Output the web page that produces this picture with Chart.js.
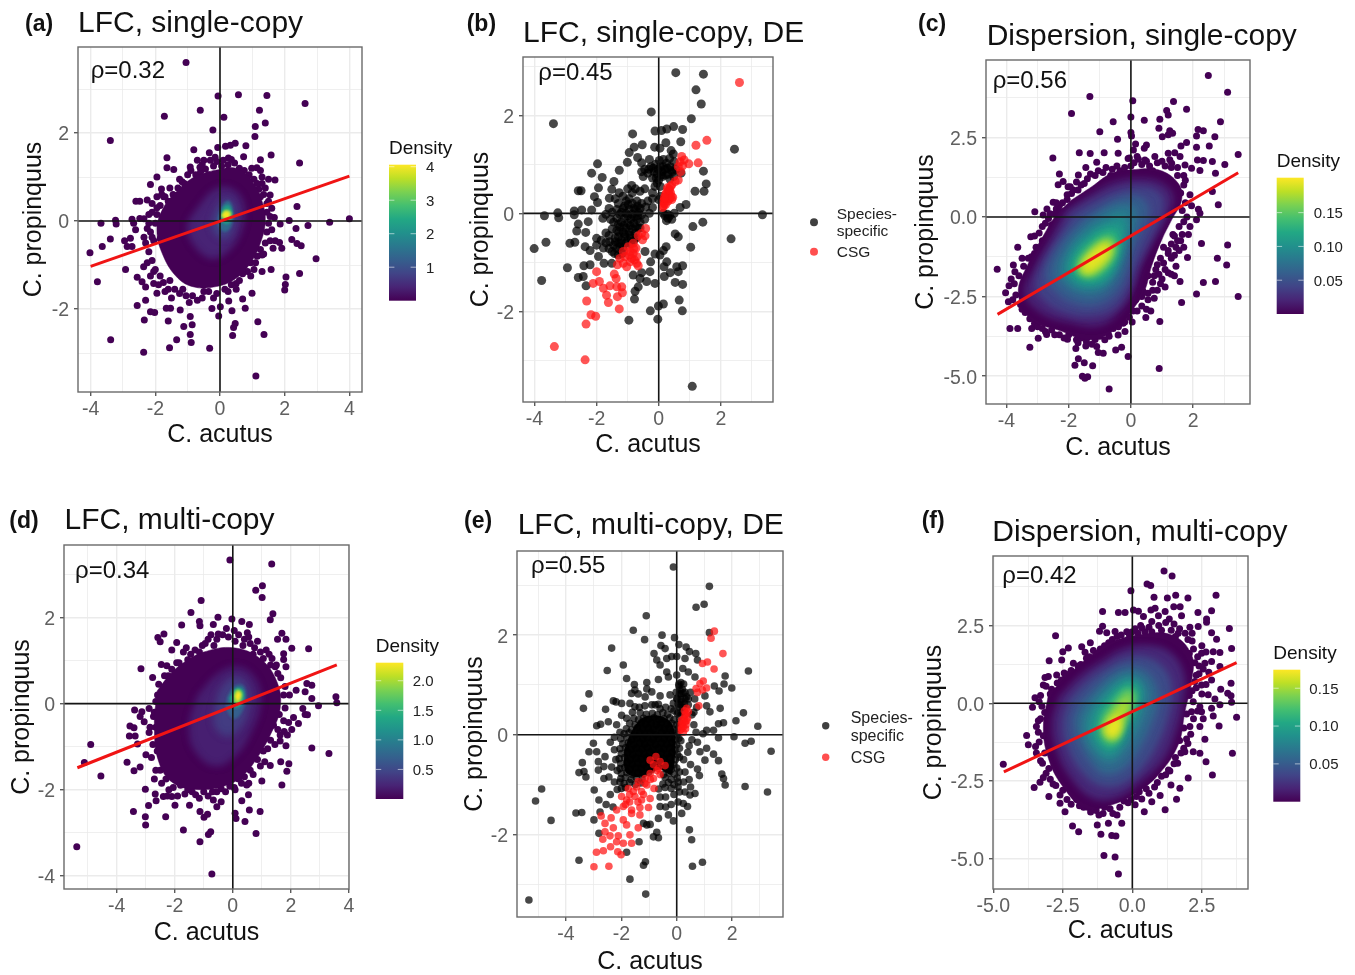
<!DOCTYPE html>
<html>
<head>
<meta charset="utf-8">
<title>Scatter panels</title>
<script src="https://cdn.jsdelivr.net/npm/chart.js@4"></script>
<style>
html, body { margin: 0; padding: 0; background: #fff; }
#page { position: relative; width: 1355px; height: 975px; overflow: hidden; filter: blur(0.4px); }
#page canvas { position: absolute; }
#overlay { position: absolute; left: 0; top: 0; font-family: "Liberation Sans", Arial, sans-serif; }
</style>
</head>
<body>
<div id="page"></div>
<script>
const viridisStops = ["#440154", "#482475", "#414487", "#355f8d", "#2a788e", "#21918c", "#22a884", "#44bf70", "#7ad151", "#bddf26", "#fde725"];

// ---- panel a ----
const aDots = [[-1.05,3.6],[-.06,2.84],[.57,2.87],[1.45,2.85],[2.63,2.67],[-.61,2.52],[1.22,2.52],[-1.72,2.38],[.12,2.36],[1.4,2.23],[1.09,2.15],[-.22,2.07],[1.08,1.92],[-3.39,1.83],[.8,1.71],[.47,1.77],[.32,1.72],[.17,1.7],[-.07,1.67],[-.81,1.62],[-.33,1.55],[.73,1.46],[1.58,1.5],[-1.64,1.44],[.26,1.43],[2.46,1.32],[1.25,1.39],[-.7,1.38],[-.5,1.38],[-.3,1.38],[-.1,1.35],[-.92,1.23],[-1.64,1.21],[-1.43,1.17],[1.14,1.21],[-1.95,1],[1.3,1],[1.7,.93],[1.5,.95],[-2.15,.83],[-1.17,.89],[-1.81,.73],[1.55,.59],[-2.6,.45],[-2.48,.45],[-2.25,.48],[-1.95,.55],[-1.74,.55],[1.45,.4],[2.38,.33],[1.6,.29],[1.68,.08],[2.14,.01],[4,.05],[3.39,-.03],[2.72,-.1],[2.35,-.17],[1.86,-.07],[-3.23,.02],[-3.21,-.07],[-3.68,-.05],[-2.72,.04],[-2.67,-.05],[-2.48,.06],[-3.39,-.41],[-3.64,-.58],[-4.02,-.72],[-2.95,-.45],[-2.77,-.39],[-2.61,-.2],[-2.25,-.17],[-2.35,-.37],[-2.87,-.58],[-2.72,-.58],[-2.1,-.37],[2.22,-.42],[2.38,-.51],[2.51,-.56],[1.71,-.45],[1.84,-.49],[1.91,-.62],[1.64,-.62],[2.97,-.86],[1.3,-.77],[1.58,-1.1],[1.3,-1.15],[2.46,-1.19],[2.04,-1.27],[2.02,-1.44],[2,-1.57],[-2.92,-1.1],[-3.79,-1.38],[-2.56,-1.28],[-2.41,-1.38],[-2.3,-1.5],[-2.36,-1.04],[-2.05,-1.15],[-2.05,-1.42],[-1.95,-1.64],[-2.3,-1.8],[-2.56,-1.92],[.99,-1.64],[.7,-1.77],[.78,-1.98],[.37,-2.04],[.27,-1.82],[.01,-1.95],[-.25,-1.99],[-.04,-2.16],[-.92,-2.17],[-1.23,-2.02],[-1.53,-1.98],[-1.66,-1.98],[-2.15,-2.06],[-2.02,-2.08],[-2.34,-2.25],[-1.6,-2.27],[-1.12,-2.4],[-.86,-2.36],[-.92,-2.58],[-.89,-2.76],[-1.34,-2.7],[-1.56,-2.88],[-.32,-2.89],[-2.36,-2.98],[-3.38,-2.7],[.47,-2.33],[.42,-2.42],[.39,-2.6],[1.17,-2.29],[1.36,-2.58],[1.11,-3.52],
  [-.9,1.15],[-.75,1.05],[-.6,1.12],[-.45,1.18],[-.35,1.05],[.05,1.25],[.25,1.28],[.45,1.32],[.6,1.2],[.75,1.15],[.9,1.05],[1.05,.95],[1.2,.72],[1.3,.85],[1.35,.6],[1.5,.45],[1.45,.2],[1.5,-.05],[1.45,-.25],[1.4,-.5],[1.25,-.65],[1.15,-.8],[.95,-.95],[.85,-1.15],[.7,-1.2],[.5,-1.42],[.35,-1.45],[.15,-1.55],[-.1,-1.65],[-.35,-1.6],[-.55,-1.75],[-.7,-1.8],[-.85,-1.7],[-1.05,-1.7],[-1.25,-1.65],[-1.4,-1.55],[-1.6,-1.55],[-1.75,-1.4],[-1.85,-1.25],[-2,-1.1],[-2.1,-.9],[-2.2,-.7],[-2.05,-.45],[-2.15,-.25],[-2,-.05],[-1.95,.15],[-1.85,.35],[-1.6,.45],[-1.45,.6],[-1.3,.75],[-1.1,.85]];
const aFringe = [[-1.55,.75],[-1.7,.55],[-1.25,.95],[-1,1.05],[-.55,1.28],[-.2,1.25],[.1,1.38],[.35,1.4],[.55,1.05],[.85,.95],[1.15,.85],[1.4,.75],[1.25,.55],[1.55,.1],[1.6,-.2],[1.35,-.75],[1.05,-1.1],[.6,-1.35],[.5,-1.55],[.25,-1.6],[-.2,-1.75],[-.5,-1.6],[-.95,-1.85],[-1.15,-1.55],[-1.5,-1.75],[-1.7,-1.6],[-1.9,-1.45],[-1.55,-1.35],[-2.15,-1.25],[-2.25,-.95],[-2.3,-.5],[-2.2,-.05],[-2.1,.2],[-2.1,.4],[-1.95,.3],[-2.2,.15],[-1.8,.6],[-2.35,.05],[-1.85,-.4],[.95,-1.25],[1.1,-.95],[1.55,-.45],[1.25,1.15],[.98,1.2],[-.15,1.45],[-.62,1.22]];
const aLevels = [0, .4, .8, 1.4, 2.2, 3.2, 4];
const aContours = [
  [[-.2,1.15],[.5,1.2],[1,.9],[1.3,.45],[1.4,0],[1.25,-.5],[.9,-1],[.4,-1.35],[-.2,-1.5],[-.8,-1.5],[-1.3,-1.3],[-1.75,-.8],[-1.95,-.2],[-1.75,.3],[-1.3,.7],[-.8,1]],
  [[-.7,.3],[-.2,.7],[.3,.75],[.7,.45],[.7,-.1],[.3,-.65],[-.25,-.85],[-.8,-.55],[-1,-.1]],
  [[-.2,.1],[0,.4],[.25,.5],[.45,.3],[.42,-.05],[.25,-.35],[-.05,-.35],[-.25,-.1]],
  [[-.05,.1],[.1,.38],[.28,.45],[.4,.2],[.34,-.12],[.15,-.24],[-.05,-.1]],
  [[.03,.1],[.12,.32],[.3,.34],[.36,.12],[.27,-.05],[.1,-.04]],
  [[.04,.1],[.13,.24],[.33,.22],[.31,.06],[.14,.03]],
  [[.05,.12],[.17,.22],[.31,.17],[.22,.05]]
];
const aFit = [[-4,-1.03],[4,1.02]];

// ---- panel b ----
const bBlack = [[.55,2.87],[1.44,2.84],[1.2,2.52],[1.37,2.23],[-.24,2.07],[1.05,1.93],[-3.39,1.83],[.48,1.77],[.77,1.71],[-.12,1.68],[.09,1.69],[.26,1.72],[-.84,1.62],[.23,1.44],[.71,1.46],[-.53,1.4],[-.79,1.35],[-.13,1.35],[.04,1.33],[2.44,1.31],[-.95,1.24],[.4,1.28],[.47,1.21],[-.68,1.14],[-1.01,1.04],[-1.97,1.01],[-.55,1.03],[-1.27,.88],[-2.16,.82],[-1.82,.73],[1.44,.86],[1.53,.6],[-1.44,.65],[-1.94,.52],[-2.59,.46],[-2.5,.46],[-1.51,.49],[-1.27,.42],[-.87,.57],[-2.07,.34],[-1.97,.22],[-1.59,.31],[1.17,.45],[1.46,.45],[.88,.18],[.69,.12],[3.34,-.03],[-3.25,.01],[-3.22,-.09],[-3.68,-.05],[-2.72,.05],[-2.72,-.03],[-2.48,.07],[-2.16,.07],[-2.59,-.22],[-2.27,-.17],[-2.64,-.36],[-2.35,-.39],[1.42,-.18],[1.1,-.27],[2.33,-.52],[.53,-.42],[.63,-.48],[1.03,-.69],[-3.63,-.59],[-4.01,-.72],[-2.86,-.61],[-2.7,-.59],[-2,-.51],[-2,-.65],[-2.37,-.68],[-2.21,-.76],[-1.94,-.88],[-1.78,-.71],[-2.94,-1.11],[-2.41,-1.07],[-2.21,-1.05],[-3.77,-1.37],[-2.59,-1.31],[-2.43,-1.29],[-2.34,-1.48],[-1.76,-1.02],[-1.51,-1.02],
  [.24,-.68],[.15,-.76],[-.44,-.78],[-.12,-.83],[.04,-.85],[-.26,-.99],[.26,-.99],[.58,-1.09],[.77,-1.07],[.63,-1.19],[.17,-1.09],[.18,-1.29],[.37,-1.21],[-.28,-1.19],[-.55,-1.21],[-.82,-1.26],[-.6,-1.33],[-.39,-1.39],[-.12,-1.43],[.53,-1.41],[.77,-1.45],[-.66,-1.5],[-.76,-1.59],[-.78,-1.75],[.66,-1.77],[.15,-1.85],[-.01,-1.89],[.76,-1.99],[-.27,-1.99],[-.96,-2.18],[-.03,-2.16],[1.08,-3.53],
  [-.45,.9],[-.35,.82],[-.25,.95],[-.15,.85],[-.05,.8],[.05,.95],[.1,.85],[.2,.9],[.3,.8],[.38,.95],[.45,.85],[-.1,1],[.02,1.08],[.12,.75],[.25,1.02],[.36,.7],[-.5,.75],[-.55,.85],[-.2,.72],[0,.68],[.15,1.1],[.35,1.12],[.5,1.05],[.55,.9],[-.3,1.1],[-.05,.62],[-.12,.55],[.05,.55],[.72,.82],[-.02,.9],[.15,.95],[.28,.92],[.42,.88],[-.18,.92],[-.32,.9],[.08,.78],[.22,.78],[.48,.75],[-.08,.72],
  [-1,.5],[-.85,.42],[-.75,.5],[-.6,.45],[-.45,.5],[-.35,.25],[-.2,.3],[-1.4,.3],[-1.3,.2],[-1.15,.35],[-1.05,.25],[-.95,.3],[-.85,.2],[-.7,.25],[-.55,.2],[-.42,.13],[-1.6,.1],[-1.5,.02],[-1.35,.08],[-1.25,-.02],[-1.15,.1],[-1.05,0],[-.95,.08],[-.85,-.02],[-.75,.08],[-.65,.02],[-.55,-.03],[-1.8,-.1],[-1.7,-.02],[-1.55,-.12],[-1.45,-.18],[-1.35,-.1],[-1.2,-.18],[-1.1,-.1],[-1,-.2],[-.9,-.12],[-.8,-.2],[-.7,-.12],[-.6,-.18],[-.45,-.12],[-1.5,-.32],[-1.35,-.35],[-1.25,-.28],[-1.15,-.38],[-1.05,-.3],[-.95,-.38],[-.85,-.32],[-.75,-.4],[-.65,-.3],[-1.7,-.4],[-1.6,-.45],[-1.4,-.5],[-1.3,-.48],[-1.2,-.55],[-1.1,-.48],[-1,-.55],[-.9,-.5],[-.8,-.55],[-1.45,-.65],[-1.5,-.78],[-1.35,-.72],[-1.7,-.6],[-1.85,-.55],[-1.25,-.68],[-1.15,-.7],[-.2,.12],[-.3,0],[.2,-.05],[.3,-.1],[.25,-.15],[.35,-.05],[.42,-.12],[.28,-.02],[.5,0],[.15,0],[-.2,.42],[.05,.35],[0,.28],
  [-1.1,.15],[-.98,.18],[-.8,.1],[-.68,.15],[-.6,.1],[-1.2,.02],[-1,-.05],[-.8,-.08],[-.68,-.05],[-1.3,-.22],[-1.12,-.25],[-.92,-.25],[-.75,-.28],[-.6,-.3],[-1.28,-.38],[-1.1,-.42],[-.92,-.45],[-.72,-.5],[-1.22,-.62],[-1.05,-.6],[-.9,-.62],[-1.4,-.58],[-1.3,-.6],[-1.58,-.58],[-1.42,-.82],[-1.3,-.85],[-1.18,-.82],[-1.6,-.72]];
const bRed = [[2.6,2.67],[1.55,1.49],[1.2,1.39],[1.27,1.03],[.97,1.01],[.74,1.16],[.69,1.05],[.82,1.09],[.77,.97],[.63,.95],[.71,.85],[.63,.68],[.53,.65],[.42,.58],
  [.12,.12],[.15,.15],[.18,.2],[.15,.25],[.2,.28],[.22,.18],[.25,.3],[.28,.35],[.22,.38],[.3,.25],[.33,.4],[.35,.3],[.38,.42],[.3,.45],[.4,.35],[.32,.5],[.42,.28],[.25,.42],[.18,.32],[.35,.48],[.28,.52],[.45,.33],[.38,.55],
  [-.42,-.31],[-.55,-.41],[-.44,-.46],[-.66,-.46],[-.52,-.54],[-.82,-.61],[-.98,-.68],[-.73,-.71],[-1.14,-.78],[-.92,-.78],[-.71,-.88],[-1.08,-.88],[-.87,-.92],[-1.25,-.92],[-.71,-1.02],[-.92,-.99],[-1.14,-1.02],[-1.33,-1.05],[-1.03,-1.09],[-.66,-1.07],[-.82,-.82],[-.8,-.72],[-.95,-.85],[-.78,-.95],
  [-2,-1.19],[-1.43,-1.24],[-1.37,-1.33],[-2.11,-1.43],[-1.91,-1.39],[-1.78,-1.53],[-1.57,-1.48],[-1.68,-1.67],[-1.62,-1.82],[-1.19,-1.5],[-1.35,-1.5],[-1.17,-1.62],[-1.33,-1.7],[-2.32,-1.79],[-1.27,-1.95],[-2.18,-2.07],[-2.03,-2.1],[-2.34,-2.26],[-3.36,-2.72],[-2.37,-2.99]];

// ---- panel c ----
const cDots = [[2.49,4.44],[3.11,3.92],[-1.32,3.78],[.06,3.65],[1.37,3.63],[1.79,3.38],[1.15,3.34],[1.2,3.2],[-1.91,3.25],[0,3.14],[-.57,2.99],[.43,3.04],[.93,3.07],[2.88,2.99],[-1,2.68],[.9,2.79],[0,2.65],[.02,2.54],[1.25,2.71],[1.2,2.58],[1.01,2.52],[1.34,2.63],[-.43,2.44],[2.16,2.75],[2.33,2.71],[2.11,2.54],[2.7,2.52],[.15,2.29],[.08,2.1],[-.41,2],[-1.66,2.02],[-1.31,1.99],[-.86,2.02],[-2.51,1.85],[.5,2.26],[.43,2.16],[1.61,2.23],[1.79,2.34],[2.11,2.19],[2.52,2.23],[3.45,1.96],[3.02,1.65],[2.62,1.74],[-1.1,1.72],[-1.45,1.55],[-2.3,1.35],[-1.69,1.32],[2.14,1.79],[2.33,1.77],[2.22,1.46],[2.72,1.37],[1.95,1.53],[1.74,1.63],[-.09,1.84],[.24,1.81],[.45,1.79],[.77,1.9],[1.2,2],[1.41,2.02],[1.58,1.9],[1.31,1.69],
  [-2.34,1.01],[-2.18,1.11],[-2.02,.95],[-1.91,.74],[-2.5,.46],[-3.09,.16],[-2.82,.06],[-2.34,.22],[-2.18,.17],[2.62,.8],[2.81,.38],[2.17,.24],[2.22,.12],[2.11,-.09],[2.27,-.83],[3.11,-.88],[2.78,-1.3],[3.08,-1.51],[1.82,-1.27],[1.58,-2.03],[2.33,-2.06],[2.72,-2.03],[2.11,-2.42],[3.45,-2.5],[1.63,-2.69],[-3.22,-.62],[-3.64,-.95],[-3.3,-1.3],[-3.78,-1.51],[-4.3,-1.64],[-3.73,-1.72],[-3.92,-2.16],[-4.03,-2.38],[-3.94,-2.66],[-3.89,-3.5],[-3.64,-3.5],[-3.25,-4.09],[-2.98,-3.81],[-3.19,-3.5],[-2.71,-3.69],[-1.77,-4.13],[-1.69,-4.45],[-1.8,-4.66],[-1.5,-4.58],[-1.23,-4.67],[-1.56,-5],[-1.39,-5.02],[-1.48,-5.07],[-.7,-5.4],[.91,-4.76],[-.09,-4.38],[-.49,-4.18],[-.3,-4.09],[-1.05,-4.26],[-.89,-4.28],[-1.1,-4.07],[.93,-3.28],[.04,-3.3],[.48,-3.16],[.64,-2.95],[.07,-2.95],[-.19,-3.03],[-.25,-3.34],[-.19,-3.6],[-.57,-3.5],[-.41,-3.71],[-.73,-3.65],[-.84,-3.86],[-1.43,-3.92],[-1.75,-3.86],[-2.04,-3.84],
  [-2.6,.1],[-2.75,-.2],[-2.95,-.5],[-2.85,-.75],[-3.05,-.95],[-3.2,-1.25],[-3.45,-1.55],[-3.6,-1.85],[-3.75,-2.1],[-3.7,-2.45],[-3.55,-2.75],[-3.4,-3],[-3.1,-3.35],[-2.85,-3.5],[-2.55,-3.55],[-2.3,-3.7],[-2,-3.7],[-1.7,-3.95],[-1.45,-4.05],[-1.15,-3.85],[-.85,-3.6],[-.5,-3.25],[-.3,-3.05],[-.1,-2.85],[.15,-2.6],[.35,-2.5],[.55,-2.4],[.7,-2.05],[.55,-1.85],[.9,-1.8],[.85,-1.5],[1.05,-1.45],[1.2,-1.15],[1.3,-.85],[1.35,-.55],[1.55,-.3],[1.7,-.15],[1.85,-.55],[1.6,-.75],[1.45,-.95],[1.3,-1.3],[1.2,-1.75],[1.1,-2.2],[.85,-2.3],[1,-1.95],[1.4,-1.85],[1.95,.35],[1.75,.45],[1.6,.75],[1.7,1],[1.5,1.3],[1.3,1.55],[1.1,1.6],[.85,1.7],[.6,1.6],[.35,1.65],[.1,1.7],[-.05,1.85],[-.35,1.45],[-.6,1.5],[-.9,1.4],[-1.15,1.3],[-1.4,1.2],[-1.6,1],[-1.85,.85],[-2.05,.7],[-2.2,.45],[-2.4,.25]];
const cFringe = [[-1.75,1.1],[-1.5,1.05],[-1.3,1.35],[-1.05,1.45],[-.8,1.55],[-.65,1.3],[-.45,1.6],[-.2,1.55],[0,1.6],[.2,1.9],[.5,1.75],[.7,1.45],[1,1.75],[1.25,1.8],[1.5,1.55],[1.7,1.3],[1.75,1.15],[1.9,.7],[1.65,.2],[1.8,0],[1.9,-.3],[1.65,-.55],[1.4,-.6],[1.5,-.75],[1.2,-1.05],[1.4,-1.2],[.95,-1.3],[1.1,-1.65],[.8,-1.65],[.95,-2.1],[.7,-2.3],[.55,-2.6],[.35,-2.8],[.2,-2.95],[-.05,-3.15],[-.2,-3.3],[-.4,-3.45],[-.7,-3.75],[-1,-3.75],[-1.25,-4],[-1.6,-3.8],[-1.9,-3.55],[-2.15,-3.8],[-2.45,-3.7],[-2.75,-3.6],[-3,-3.45],[-3.25,-3.2],[-3.5,-2.9],[-3.8,-2.6],[-3.85,-1.95],[-3.5,-1.3],[-3.1,-1.15],[-2.9,-1],[-3.1,-.6],[-2.85,-.3],[-2.65,-.05],[-2.45,.1],[-2.3,.35],[-2.05,.55],[-1.95,.95],[-1.7,.85],[.75,-2.55],[.5,-2.9],[.4,-2.35],[1.05,-.95],[1.55,-1.05],[1.7,-.95],[1.45,-1.55],[1.3,-1.8],[.75,-1.85],[-2.7,.25],[-2.55,-.25],[-2.4,.45]];
const cLevels = [0, .02, .04, .06, .08, .10, .12, .14, .16, .18, .195];
const cContours = [
  [[-1.91,.53],[-1.26,.95],[-.62,1.37],[.02,1.48],[.88,1.48],[1.52,1.06],[1.63,.53],[1.31,-.09],[.99,-.72],[.66,-1.56],[.45,-2.3],[.13,-2.81],[-.41,-3.44],[-1.26,-3.86],[-2.34,-3.55],[-3.19,-3.24],[-3.62,-2.4],[-3.3,-1.46],[-2.77,-.51],[-2.44,.01]],
  [[-2.1,.2],[-1.3,.7],[-.5,1.1],[.3,1.2],[1,1.05],[1.35,.6],[1.1,-.1],[.7,-.8],[.3,-1.6],[.1,-2.2],[-.3,-2.9],[-1,-3.4],[-2,-3.3],[-2.9,-3],[-3.4,-2.4],[-3.1,-1.6],[-2.6,-.7]],
  [[-1.9,.1],[-1.2,.5],[-.4,.85],[.3,.95],[.85,.8],[1.05,.4],[.85,-.2],[.5,-.9],[.15,-1.6],[-.1,-2.3],[-.6,-2.9],[-1.3,-3.1],[-2.1,-3],[-2.8,-2.6],[-3.05,-2.1],[-2.8,-1.4],[-2.3,-.6]],
  [[-1.65,-.1],[-1,.3],[-.35,.6],[.15,.65],[.5,.45],[.55,.05],[.3,-.5],[.05,-1.1],[-.15,-1.8],[-.5,-2.4],[-1.1,-2.75],[-1.8,-2.7],[-2.4,-2.35],[-2.7,-1.85],[-2.5,-1.2],[-2.1,-.6]],
  [[-1.4,-.2],[-.85,.15],[-.35,.35],[.05,.3],[.15,-.1],[-.05,-.7],[-.25,-1.4],[-.55,-2],[-1.05,-2.4],[-1.65,-2.4],[-2.15,-2.1],[-2.35,-1.65],[-2.15,-1.1],[-1.8,-.6]],
  [[-1.2,-.35],[-.7,-.1],[-.3,.02],[-.12,-.25],[-.25,-.85],[-.45,-1.5],[-.75,-2],[-1.2,-2.2],[-1.7,-2.15],[-2.05,-1.85],[-2.05,-1.4],[-1.75,-.85]],
  [[-1.1,-.5],[-.65,-.35],[-.38,-.4],[-.35,-.9],[-.5,-1.45],[-.85,-1.9],[-1.3,-2.05],[-1.7,-1.95],[-1.9,-1.6],[-1.7,-1.1]],
  [[-1,-.65],[-.65,-.55],[-.48,-.8],[-.58,-1.3],[-.9,-1.7],[-1.3,-1.9],[-1.65,-1.8],[-1.72,-1.5],[-1.5,-1.05]],
  [[-.95,-.75],[-.65,-.7],[-.55,-1.05],[-.8,-1.5],[-1.2,-1.8],[-1.6,-1.75],[-1.65,-1.45],[-1.3,-1.05]],
  [[-.88,-.78],[-.65,-.82],[-.65,-1.2],[-1.02,-1.6],[-1.42,-1.8],[-1.62,-1.62],[-1.3,-1.12]],
  [[-.9,-.92],[-.74,-.92],[-.82,-1.25],[-1.2,-1.6],[-1.5,-1.67],[-1.45,-1.4],[-1.15,-1.08]]
];
const cFit = [[-4.29,-3.06],[3.45,1.39]];

// ---- panel d ----
const dDots = [[-.1,3.34],[1.34,3.25],[1.02,2.74],[.79,2.64],[1.01,2.47],[-1.09,2.4],[1.38,2.09],[1.29,1.95],[-1.44,2.12],[-.51,2.01],[-1.15,1.91],[-1.13,1.81],[-1.76,1.83],[-.67,1.84],[-.03,1.97],[.31,1.91],[.57,1.84],[-2.37,1.62],[-2.58,1.54],[-2.5,1.44],[-1.93,1.42],[-2.1,1.25],[1.69,1.64],[1.83,1.5],[1.54,1.5],[2.61,1.28],[2.03,1.29],[1.75,1.16],[1.75,1.03],[1.83,.86],[1.46,.86],[-3.16,.81],[-2.46,.91],[-2.27,.88],[-1.93,.95],[-2.76,.61],[-2.22,.65],[-2.59,.2],[2.55,.47],[2.72,.43],[2.49,.28],[2.72,.12],[2.18,.31],[3.55,.16],[3.58,.02],[2.95,-.05],[2.41,-.11],[2.49,-.25],[2.57,-.26],[2.09,-.32],[2.26,-.46],[1.92,-.44],[2.03,-.6],[1.77,-.65],[1.88,-.73],[1.63,-.73],[1.63,-.87],[1.83,-.98],[2.72,-1.03],[3.31,-1.16],[1.65,-1.35],[1.93,-1.4],[1.86,-1.57],[1.69,-1.89],[1.29,-1.44],[1,-1.8],[-3.38,-.15],[-3.13,-.19],[-2.88,-.11],[-3.19,-.3],[-3.05,-.42],[-2.73,-.3],[-3.54,-.52],[-3.4,-.56],[-3.56,-.75],[-3.36,-.75],[-2.88,-.67],[-3.28,-.94],[-4.89,-.95],[-2.99,-1.19],[-5.11,-1.37],[-3.64,-1.36],[-3.4,-1.56],[-3.19,-1.47],[-4.54,-1.68],[-3.01,-1.99],[-2.67,-2.1],[-2.64,-2.26],[-2.9,-2.37],[-1.99,-2.36],[-1.49,-2.36],[-3.42,-2.51],[-3.01,-2.63],[-2.31,-2.63],[-3,-2.82],[-1.7,-2.94],[-1.13,-2.51],[-.99,-2.64],[-.87,-2.57],[-.76,-2.98],[-.84,-3.04],[-1.13,-3.21],[-5.37,-3.33],[-.72,-3.96],[.08,-2.55],[.11,-2.67],[.42,-2.74],[.57,-2.47],[.94,-2.51],[.8,-3.02],[.31,-2.26],[-.55,-2.4],[-.67,-2.24],[-.4,-2.28],[-2.39,-2.16],[-2.1,-2.16],[.54,-2.12],[.08,-2],[.48,-1.89],
  [-2.55,.45],[-2.35,.65],[-2.1,.8],[-1.85,.95],[-1.55,1.02],[-1.7,1.2],[-1.3,1.25],[-1.05,1.35],[-.85,1.5],[-.55,1.5],[-.35,1.6],[-.15,1.55],[.2,1.6],[.4,1.5],[.6,1.4],[.75,1.3],[.95,1.2],[1.15,1.25],[1.35,1.05],[1.5,.9],[1.65,.6],[1.8,.4],[1.95,.2],[1.8,-.1],[1.75,-.4],[1.55,-.6],[1.45,-.95],[1.2,-1.05],[1.1,-1.35],[.95,-1.45],[.7,-1.65],[.55,-1.85],[.3,-1.85],[.05,-1.95],[-.25,-2.05],[-.55,-2.05],[-.85,-2.15],[-1.15,-2.2],[-1.4,-2.05],[-1.65,-2.1],[-1.9,-2.15],[-2.2,-2],[-2.45,-1.85],[-2.65,-1.55],[-2.8,-1.25],[-2.75,-.95],[-2.85,-.55],[-2.7,-.2],[-2.65,.05]];
const dFringe = [[-2.2,.5],[-1.95,.7],[-1.75,.85],[-1.45,1.15],[-1.15,1.2],[-.95,1.4],[-.65,1.35],[-.5,1.62],[-.22,1.75],[.08,1.45],[.35,1.35],[.5,1.65],[.7,1.15],[.85,1.45],[1.05,1.05],[1.3,.9],[1.25,1.15],[1.55,.7],[1.75,.2],[1.6,-.25],[1.4,-.5],[1.3,-.85],[1.05,-1.1],[.85,-1.3],[.6,-1.55],[.4,-1.7],[.2,-1.75],[-.1,-1.92],[-.4,-1.98],[-.7,-2.05],[-1,-2.05],[-1.28,-2.12],[-1.55,-2],[-1.8,-1.9],[-2.05,-1.95],[-2.3,-1.75],[-2.5,-1.55],[-2.4,-1.3],[-2.6,-1.1],[-2.55,-.8],[-2.65,-.55],[-2.55,-.3],[-2.5,-.05],[-2.35,.3],[-1.6,1.3],[-.75,1.6],[.05,1.7],[.55,1.55],[-2.7,-1.75],[-2.25,-2.15]];
const dLevels = [0, .2, .4, .7, 1.1, 1.5, 1.9, 2.3];
const dContours = [
  [[-2.6,.3],[-2.2,.65],[-1.7,.95],[-1,1.2],[.02,1.3],[.94,1.05],[1.52,.51],[1.63,-.11],[1.29,-.73],[.83,-1.27],[.37,-1.66],[-.21,-1.9],[-1.13,-2],[-2.04,-1.85],[-2.55,-1.35],[-2.7,-.5]],
  [[-1.2,.2],[-.5,.7],[.2,.85],[.8,.55],[.95,0],[.6,-.7],[.1,-1.2],[-.6,-1.45],[-1.3,-1.1],[-1.5,-.5]],
  [[-.5,.25],[-.15,.55],[.25,.6],[.55,.3],[.5,-.2],[.2,-.6],[-.25,-.75],[-.65,-.45]],
  [[-.2,.15],[.05,.4],[.35,.42],[.45,.15],[.3,-.2],[.05,-.35],[-.2,-.15]],
  [[-.12,.15],[.1,.36],[.34,.34],[.38,.08],[.15,-.1],[-.07,-.04]],
  [[-.06,.13],[.14,.34],[.33,.27],[.3,.03],[.1,-.05]],
  [[.03,.06],[.1,.3],[.29,.28],[.26,.06],[.12,0]],
  [[.08,.18],[.18,.28],[.27,.2],[.17,.07]]
];
const dFit = [[-5.35,-1.49],[3.58,.9]];

// ---- panel e ----
const eBlack = [[-.12,3.37],[1.18,2.98],[.99,2.62],[.7,2.56],[-1.1,2.39],[-1.57,2.1],[-.53,2],[-1.16,1.91],[-.08,1.95],[1.18,2.05],[.08,1.81],[-2.35,1.74],[.34,1.76],[-.57,1.79],[-.42,1.73],[.69,1.63],[-.82,1.63],[.46,1.67],[-.36,1.53],[-.72,1.5],[-.18,1.57],[0,1.57],[.3,1.53],[.75,1.5],[-1.93,1.4],[-2.51,1.29],[2.59,1.28],[-.6,1.4],[-.36,1.26],[.22,1.33],[.42,1.26],[-1.81,1.13],[-.66,1.11],[-.3,1.16],[0,1.2],[.66,1.16],[1.75,1.18],[1.71,1.02],[1.99,.94],[1.36,.98],[1.53,.88],[-1.53,1.01],[-1.08,1.05],[-3.17,.82],[-1.51,.9],[-1.08,.92],[-.9,.86],[-1.63,.83],[-1.39,.82],[-1.14,.76],[-.6,.78],[-2.29,.68],[-2.19,.66],[-1.99,.63],[-1.69,.63],[-3.37,.53],[-2.57,.51],[-1.51,.56],[-.66,.61],[-.78,.6],[-.24,.8],[.12,.9],[.24,.83],[0,.73],[.18,.66],[.36,.76],[-.12,.63],[.42,.6],[1.02,.78],[1.08,.58],[1.57,.53],[1.2,.46],[2.41,.44],[2.14,.28],[2.93,.17],[1.69,.24],[1.51,.22],[1.33,.09],[1.08,.09],[-2.89,.18],[-2.75,.21],[-2.47,.26],[-2.17,.2],[-1.99,.39],[-1.81,.33],[2.07,-.04],[2.47,-.17],[2.69,-.13],[3.41,-.33],[1.51,-.06],[1.08,-.27],[1.33,-.39],[1.51,-.52],[1.02,-.51],[.84,-.34],[1.63,-.79],[1.69,-.88],[1.75,-1.01],[2.47,-1.04],[3.28,-1.15],[.75,-.69],[.82,-.82],[.66,-1.18],[.48,-1.21],[-3.01,-.17],[-3.17,-.34],[-2.89,-.34],[-3.41,-.56],[-3.53,-.76],[-3.35,-.74],[-3.28,-.85],[-2.83,-.54],[-2.83,-.71],[-2.59,-.44],[-2.63,-.64],[-2.63,-.88],[-2.98,-1.11],[-4.88,-1.09],[-5.1,-1.33],[-3.64,-1.57],[-3.43,-1.56],[-4.54,-1.72],[-2.99,-1.71],[-2.77,-1.55],[-2.81,-1.31],[-2.81,-1.98],[-3.53,-2.52],[-5.34,-3.32],[-1.12,-3.2],[-1.69,-2.9],[-1.2,-2.62],[-1.13,-2.55],[-1.81,-2.36],[-1.36,-2.15],[-.84,-2.05],[-.66,-2.07],[-.72,-1.96],[.46,-1.91],[.54,-2.11],[.57,-2.64],[.93,-2.56],[-1.08,-1.81],[-.96,-1.8],[-1.2,-1.78],[-.66,-1.68],[-.3,-1.61],[-.12,-1.73],[.18,-1.58],[.39,-1.44],[.24,-1.38],[-.6,-1.44],
  [-2.4,-.15],[-2.25,-.3],[-2.2,-.5],[-2.35,-.65],[-2.45,-.85],[-2.25,-.95],[-2.15,-1.1],[-2.4,-1.2],[-2.55,-1.4],[-2.3,-1.45],[.1,-.45],[.25,-.5],[.4,-.35],[.5,-.6],[.3,-.75],[.1,-.75],[.45,-.9],[.25,-.95],[.05,-.95],[.5,-1.05],[.3,-1.15],[.1,-1.15],[-.1,-1.2],[-.4,-1.25],[-.6,-1.25],[.05,-1.35],[-.2,-1.4],[-.4,-1.45],[.1,.25],[.05,.45],[.55,.4],[.62,.2],[.7,.05],[.55,-.1],[.45,-.22],[.75,-.15],[.95,.02],[.15,-.12],[-.2,.52],[-.4,.55],[-.6,.52],[-.9,.6],[-1.15,.58],[-1.35,.55],[-1.6,.45],[-2.05,.05],[-2.25,-.05],[-2.15,-.72],[-2.05,-.95],[.05,.62],[.15,.82],[.25,1.02],[.08,1.02],[.3,.72],[.5,.85],[.65,.72],[.72,.55],[.62,.45],[.08,.98],[.15,.7],[.22,.55],[.08,.55],[-.02,.85],[.2,.45],[.12,.6],[.02,.72],[.1,.82],[.2,.92],[.15,1.05],[.3,.85],[.28,.62],[.42,.72],[.02,.42],[.12,.38],[-.1,.48]];
const eCore = [[-1.32,.44],[-1.1,.41],[-.88,.43],[-.7,.4],[-.5,.44],[-.33,.41],
  [-1.55,.33],[-1.38,.3],[-1.2,.33],[-1.02,.31],[-.82,.34],[-.64,.3],[-.45,.32],[-.25,.34],[-.1,.3],
  [-1.7,.23],[-1.5,.2],[-1.28,.24],[-1.12,.21],[-.92,.23],[-.74,.2],[-.55,.24],[-.35,.21],[-.18,.23],[0,.2],
  [-1.82,.12],[-1.63,.1],[-1.42,.14],[-1.22,.11],[-1.03,.13],[-.85,.1],[-.62,.14],[-.44,.11],[-.26,.13],[-.08,.1],[.05,.13],
  [-1.9,.02],[-1.72,.04],[-1.5,0],[-1.33,.03],[-1.15,.01],[-.95,.04],[-.75,0],[-.55,.03],[-.36,.01],[-.15,.04],[.02,0],
  [-2.02,-.08],[-1.8,-.06],[-1.62,-.1],[-1.43,-.07],[-1.22,-.09],[-1.05,-.06],[-.85,-.1],[-.66,-.07],[-.45,-.09],[-.27,-.06],[-.07,-.1],[.08,-.07],
  [-1.95,-.18],[-1.75,-.16],[-1.55,-.2],[-1.33,-.17],[-1.15,-.19],[-.94,-.16],[-.76,-.2],[-.55,-.17],[-.36,-.19],[-.17,-.16],[0,-.2],
  [-2.05,-.28],[-1.85,-.26],[-1.65,-.3],[-1.45,-.27],[-1.25,-.29],[-1.05,-.26],[-.86,-.3],[-.64,-.27],[-.46,-.29],[-.25,-.26],[-.06,-.3],[.1,-.27],
  [-2,-.38],[-1.78,-.36],[-1.58,-.4],[-1.36,-.37],[-1.18,-.39],[-.97,-.36],[-.76,-.4],[-.56,-.37],[-.35,-.39],[-.15,-.36],[.03,-.4],
  [-2.08,-.48],[-1.88,-.46],[-1.67,-.5],[-1.47,-.47],[-1.28,-.49],[-1.08,-.46],[-.88,-.5],[-.68,-.47],[-.45,-.49],[-.25,-.46],[-.05,-.5],
  [-2.02,-.58],[-1.8,-.56],[-1.6,-.6],[-1.4,-.57],[-1.2,-.59],[-1,-.56],[-.78,-.6],[-.3,-.58],[-.12,-.6],
  [-2.05,-.68],[-1.88,-.66],[-1.68,-.7],[-1.48,-.67],[-1.28,-.69],[-1.08,-.66],[-.9,-.7],[-.4,-.68],[-.2,-.7],[0,-.67],
  [-2,-.78],[-1.8,-.76],[-1.6,-.8],[-1.4,-.77],[-1.2,-.79],[-1.02,-.76],[-.48,-.8],[-.28,-.77],[-.08,-.79],
  [-2.02,-.88],[-1.85,-.86],[-1.65,-.9],[-1.45,-.87],[-1.25,-.89],[-.42,-.86],[-.2,-.9],[.02,-.87],
  [-1.9,-.98],[-1.7,-.96],[-1.5,-1],[-1.3,-.97],[-.5,-.99],[-.3,-.96],[-.1,-1],
  [-2,-1.08],[-1.85,-1.06],[-.65,-1.09],[-.42,-1.06],[-.2,-1.08],[.05,-1.05]];
const eSolid = [[-1.9,-.3],[-1.6,.1],[-1.2,.35],[-.6,.38],[-.15,.2],[-.05,-.3],[-.2,-.8],[-.6,-.7],[-1.4,-.85],[-1.85,-.75]];
const eRed = [[1.36,2.08],[1.24,1.94],[1.67,1.63],[.93,1.43],[1.11,1.46],[1.35,1.32],[.96,1.08],[.84,1.03],[1.08,.94],[.93,.9],[.7,.93],[.75,.85],[.8,.58],
  [.36,.53],[.42,.46],[.3,.39],[.39,.33],[.18,.29],[.3,.26],[.12,.19],[.24,.16],[.34,.2],[.12,.09],[.24,.05],[.34,.42],[.26,.32],[.2,.22],[.32,.12],[.18,.12],[.36,.28],[.28,.48],
  [-.75,-.44],[-.96,-.51],[-.6,-.54],[-.42,-.62],[-.84,-.6],[-.66,-.68],[-.6,-.8],[-.96,-.78],[-1.14,-.88],[-.84,-.88],[-1.39,-.94],[-1.08,-1.01],[-.82,-1.08],[-1.75,-1.08],[-1.57,-1.14],[-1.27,-1.14],[-.96,-1.28],[-1.99,-1.24],[-1.81,-1.31],[-1.51,-1.24],[-1.27,-1.31],[-2.17,-1.51],[-1.93,-1.44],[-1.63,-1.51],[-1.33,-1.46],[-1.02,-1.46],[-1.63,-1.58],[-1.33,-1.61],[-2.73,-1.63],[-2.37,-1.67],[-2.59,-1.78],[-2.29,-1.87],[-1.93,-1.71],[-1.81,-1.81],[-1.39,-1.87],[-2.59,-1.95],[-2.41,-2.03],[-2.11,-2.03],[-1.69,-2.01],[-2.67,-2.1],[-2.17,-2.15],[-1.93,-2.18],[-1.63,-2.18],[-2.39,-2.25],[-2.65,-2.33],[-2.9,-2.36],[-2.13,-2.35],[-2.01,-2.41],[-2.99,-2.65],[-2.45,-2.64],
  [-1.7,-1.2],[-1.45,-1.05],[-1.15,-.98],[-.95,-.9],[-.72,-.72],[-1.85,-1.4],[-1.7,-1.35],[-1.4,-1.35],[-1.2,-1.2]];

// ---- panel f ----
const fDots = [[1.14,4.26],[1.43,4.1],[.53,3.84],[.66,3.79],[-.05,3.62],[3.01,3.48],[1.56,3.48],[1.26,3.39],[.78,3.41],[2,3.39],[1.49,3.11],[1.72,3.11],[.82,3.06],[.67,3],[.04,3],[.22,2.96],[-1.07,2.95],[-.5,2.92],[-.26,2.92],[2.85,2.98],[2.36,2.92],[1.18,2.95],[.94,2.82],[.4,2.79],[1.33,2.71],[1.77,2.82],[2.67,2.71],[2.67,2.61],[.7,2.63],[.3,2.5],[-1.07,2.48],[3.49,2.41],[2.07,2.45],[2.37,2.47],[-1.18,2.32],[-.92,2.27],[-.62,2.31],[-2.76,2.17],[2.85,2.27],[-.02,2.29],[3.03,2.06],[-1.51,1.95],[-1.82,1.82],[-2.3,1.78],[3.57,1.76],[-1.7,1.64],[-2.5,1.66],[-2.99,1.37],[-2.54,1.39],[-2.12,1.29],[2.91,1.66],[3.15,1.63],[2.49,1.61],[2.85,1.34],[2.61,1.29],[3.15,1.18],[-3.02,.86],[-3.14,.83],[-2.72,.91],[-2.45,.97],[-3.2,.59],[-3.5,.18],[-3.59,-.13],[-3.38,-.56],[-3.38,-.93],[-3.8,-1.04],[-3.74,-1.34],[-3.48,-1.39],[-4.64,-1.96],[-3.23,-1.93],[-3.53,-2.71],[-3.32,-2.54],[-3.2,-2.39],[-3,-3],[-2.6,-3.22],[-2.42,-3.49],[-2.15,-3.95],[-1.93,-4.14],[-1.26,-3.92],[-1.13,-4.22],[-.86,-3.86],[-.74,-4.26],[-.59,-4.27],[-.38,-3.86],[-1.02,-4.9],[-.62,-4.95],[-.5,-5.5],[1.18,-3.43],[.43,-3.49],[1.59,-3.09],[.7,-3.17],[1,-2.97],[.34,-3.08],[.1,-3.27],[1.71,-2.74],[1.39,-2.63],[2.01,-2.41],[2.88,-2.31],[2.65,-1.88],[3.6,-1.61],[2.43,-1.61],[1.63,-1.93],[2.61,-1.16],[3.12,-.73],[3.75,-.45],[3.57,.03],[3.55,.24],[3.43,.32],[3.18,.45],[3.55,.64],[3.15,-.05],[2.97,.14],[2.91,-.41],[2.43,-.75],[2.07,-.75],[2.13,-.27],[2.49,-.27],[2.85,-.16],[2.43,-.11],[2.73,.27],[2.49,.59],[2.85,.75],[2.25,.7],[2.19,.05],[2.19,-1.56],[1.89,-1.56],[1.35,-2.18],
  [-3.1,.55],[-3.3,.25],[-3.25,-.1],[-3.3,-.5],[-3.2,-1.05],[-3.45,-1.6],[-3.3,-1.85],[-3,-2.1],[-2.95,-2.45],[-2.75,-2.65],[-2.6,-2.95],[-2.35,-3.1],[-2,-3.1],[-1.75,-3.35],[-1.5,-3.5],[-1.3,-3.45],[-1.05,-3.55],[-.8,-3.4],[-.55,-3.6],[-.3,-3.15],[-.05,-3.1],[.25,-2.85],[.5,-2.75],[.8,-2.7],[1.05,-2.35],[1.3,-2.15],[1.55,-1.75],[1.85,-1.45],[1.95,-1.15],[1.85,-.8],[2.2,-.5],[1.95,-.35],[2.15,.4],[2.3,.9],[2.4,1.2],[2.35,1.5],[2.2,1.75],[2,2.05],[1.7,2.4],[1.5,2.55],[1.2,2.6],[.95,2.5],[.6,2.45],[.45,2.3],[.2,2.25],[-.2,2.3],[-.55,2.15],[-.85,1.95],[-1.15,1.75],[-1.4,1.7],[-1.65,1.45],[-1.95,1.2],[-2.2,1.05],[-2.4,.85],[-2.7,.65],[-2.9,.45]];
const fFringe = [[-2.55,.75],[-2.25,.95],[-1.85,1.25],[-1.55,1.5],[-1.25,1.6],[-1,1.85],[-.72,2.05],[-.4,2.2],[-.1,2.18],[.1,2.4],[.35,2.42],[.7,2.3],[1.05,2.35],[1.4,2.35],[1.65,2.25],[1.9,2.25],[2.15,2],[2.25,1.3],[2.55,1.1],[2.3,.5],[2.5,.3],[2.35,-.25],[2.1,-1],[2,-1.3],[1.7,-1.2],[1.75,-1.6],[1.5,-1.95],[1.2,-2.3],[.9,-2.55],[.6,-2.9],[.15,-3],[-.15,-3.2],[-.45,-3.35],[-.7,-3.55],[-1,-3.35],[-1.2,-3.6],[-1.6,-3.35],[-1.9,-3.3],[-2.2,-3.25],[-2.5,-2.8],[-2.85,-2.6],[-3.1,-2.25],[-3.15,-1.6],[-3.35,-1.25],[-3.45,-.75],[-3.15,-.3],[-3.35,.05],[-2.95,.3],[-2.55,.5],[2.15,2.25],[2.5,1.85],[2.65,1.65],[1.55,2.15],[2.05,1.6],[2.4,.95],[2.75,1],[2.65,.6],[2.05,.25],[2.55,-.5]];
const fLevels = [0, .02, .04, .06, .08, .10, .12, .14, .155, .17];
const fContours = [
  [[-3.02,.27],[-2.3,.91],[-1.46,1.56],[-.74,1.98],[.22,2.2],[1.41,2.2],[2.13,1.56],[2.13,.69],[1.89,-.27],[1.65,-1.34],[.94,-2.3],[.22,-2.84],[-.74,-3.27],[-1.7,-3.38],[-2.54,-2.63],[-3.02,-1.77],[-3.2,-.8]],
  [[-2.6,.2],[-1.9,.85],[-1.1,1.35],[-.3,1.75],[.6,1.85],[1.4,1.6],[1.85,.9],[1.8,.1],[1.55,-.9],[1.1,-1.8],[.3,-2.5],[-.5,-3],[-1.4,-3.05],[-2.2,-2.4],[-2.7,-1.5],[-2.85,-.6]],
  [[-2.2,.15],[-1.6,.7],[-.9,1.15],[-.2,1.45],[.55,1.45],[1.15,1.1],[1.4,.5],[1.3,-.3],[.95,-1.2],[.4,-2],[-.3,-2.55],[-1.1,-2.65],[-1.8,-2.2],[-2.3,-1.4],[-2.45,-.6]],
  [[-1.85,-.05],[-1.3,.5],[-.7,.95],[-.15,1.15],[.4,1.05],[.8,.65],[.9,.05],[.65,-.7],[.2,-1.5],[-.35,-2.1],[-1,-2.25],[-1.5,-1.85],[-1.9,-1.2],[-2.05,-.55]],
  [[-1.5,-.15],[-1.05,.35],[-.55,.75],[-.1,.9],[.3,.75],[.5,.35],[.4,-.2],[.1,-.9],[-.3,-1.5],[-.8,-1.85],[-1.3,-1.6],[-1.65,-1.05],[-1.7,-.55]],
  [[-1.25,-.25],[-.85,.2],[-.45,.55],[-.1,.7],[.2,.55],[.25,.2],[.1,-.25],[-.2,-.8],[-.5,-1.35],[-.85,-1.55],[-1.2,-1.3],[-1.4,-.85]],
  [[-1.05,-.35],[-.7,.05],[-.35,.4],[-.1,.5],[.1,.35],[.1,.05],[-.1,-.35],[-.35,-.9],[-.6,-1.25],[-.9,-1.3],[-1.15,-1]],
  [[-.95,-.45],[-.6,-.05],[-.3,.3],[-.1,.36],[.05,.12],[-.15,-.25],[-.35,-.75],[-.55,-1.15],[-.85,-1.2],[-1.05,-.85]],
  [[-.92,-.6],[-.55,-.2],[-.28,.05],[-.14,-.08],[-.35,-.5],[-.5,-.95],[-.75,-1.12],[-1,-.88]],
  [[-.88,-.72],[-.58,-.42],[-.42,-.62],[-.55,-1],[-.78,-1.05],[-.95,-.9]]
];
const fFit = [[-4.62,-2.21],[3.75,1.31]];

// tick values and text
const xTicksA = [-4, -2, 0, 2, 4], xLabelsA = ["-4", "-2", "0", "2", "4"], xMinorA = [-3, -1, 1, 3];
const xTicksB = [-4, -2, 0, 2], xLabelsB = ["-4", "-2", "0", "2"], xMinorB = [-3, -1, 1, 3];
const xMinorD = [-5, -3, -1, 1, 3];
const yTicksA = [-2, 0, 2], yLabelsA = ["-2", "0", "2"], yMinorA = [-3, -1, 1, 3];
const yTicksD = [-4, -2, 0, 2], yLabelsD = ["-4", "-2", "0", "2"];
const ticks25 = [-5, -2.5, 0, 2.5], labels25 = ["-5.0", "-2.5", "0.0", "2.5"], minor25 = [-3.75, -1.25, 1.25, 3.75];

const barA = [1, 2, 3, 4], barALabels = ["1", "2", "3", "4"];
const barD = [.5, 1, 1.5, 2], barDLabels = ["0.5", "1.0", "1.5", "2.0"];
const barC = [.05, .1, .15], barCLabels = ["0.05", "0.10", "0.15"];

function viridis(t) {
	t = Math.min(1, Math.max(0, t)) * (viridisStops.length - 1);
	const i = Math.min(viridisStops.length - 2, Math.floor(t));
	const hex = (s, k) => parseInt(s.substr(1 + k * 2, 2), 16);
	const rgb = [0, 1, 2].map((k) => Math.round(hex(viridisStops[i], k) * (1 - (t - i)) + hex(viridisStops[i + 1], k) * (t - i)));
	return `rgb(${rgb.join(",")})`;
}

// plot box is [left, top, right, bottom] in page pixels
const panels = [
	{ box: [78, 47, 362, 392], xlim: [-4.39, 4.39], ylim: [-3.886, 3.955], xT: xTicksA, xL: xLabelsA, xM: xMinorA, yT: yTicksA, yL: yLabelsA, yM: yMinorA, xTitleY: 435.5, yTitleX: 34.6, dots: aDots.concat(aFringe), levels: aLevels, contours: aContours, fit: aFit, dmax: 4.06, soft: 3.5, softHot: 1 },
	{ box: [523, 57, 773, 402], xlim: [-4.37, 3.68], ylim: [-3.85, 3.19], xT: xTicksB, xL: xLabelsB, xM: xMinorB, yT: yTicksA, yL: yLabelsA, yM: yMinorA, xTitleY: 445.5, yTitleX: 481.3, black: bBlack, red: bRed, r: 4.5 },
	{ box: [986, 60, 1250, 404], xlim: [-4.66, 3.83], ylim: [-5.875, 4.93], xT: xTicksB, xL: xLabelsB, xM: xMinorB, yT: ticks25, yL: labels25, yM: minor25, xTitleY: 447.8, yTitleX: 926.3, dots: cDots.concat(cFringe), levels: cLevels, contours: cContours, fit: cFit, dmax: .2017, soft: 3.5, softHot: 3.5 },
	{ box: [64, 545, 349, 889], xlim: [-5.81, 4.0], ylim: [-4.31, 3.69], xT: xTicksA, xL: xLabelsA, xM: xMinorD, yT: yTicksD, yL: yLabelsD, yM: yMinorA, xTitleY: 932.8, yTitleX: 22, dots: dDots.concat(dFringe), levels: dLevels, contours: dContours, fit: dFit, dmax: 2.305, soft: 3.5, softHot: 1 },
	{ box: [517, 551, 783, 917], xlim: [-5.77, 3.84], ylim: [-3.66, 3.69], xT: xTicksB, xL: xLabelsB, xM: xMinorD, yT: yTicksA, yL: yLabelsA, yM: yMinorA, xTitleY: 962.1, yTitleX: 475.6, black: eBlack.concat(eCore), red: eRed, solid: eSolid, r: 3.8 },
	{ box: [993, 556, 1248, 889], xlim: [-5.01, 4.16], ylim: [-5.98, 4.74], xT: ticks25, xL: labels25, xM: minor25, yT: ticks25, yL: labels25, yM: minor25, xTitleY: 931.5, yTitleX: 934.6, dots: fDots.concat(fFringe), levels: fLevels, contours: fContours, fit: fFit, dmax: .1745, soft: 3.5, softHot: 3.5 }
];

const LEFT = 75, BELOW = 75, ABOVE = 8, RIGHT = 8;
const page = document.getElementById("page");

// frame around the plot area, ggplot style
const framePlugin = {
	id: "frame",
	afterDatasetsDraw(chart) {
		const a = chart.chartArea, ctx = chart.ctx;
		ctx.save();
		ctx.strokeStyle = "#6a6a6a";
		ctx.lineWidth = 1.4;
		ctx.strokeRect(a.left, a.top, a.right - a.left, a.bottom - a.top);
		ctx.restore();
	},
};

// datasets draw from last to first, so set the blur for the one coming next
const softPlugin = {
	id: "soft",
	afterDatasetDraw(chart, args) {
		const next = chart.data.datasets[args.index - 1];
		chart.ctx.filter = next && next.soft ? `blur(${next.soft}px)` : "none";
	},
};

function axis(lim, major, labels, minor, text, fit, titlePad, labelPad, labelShift) {
	const all = major.concat(minor).sort((p, q) => p - q);
	return {
		type: "linear",
		min: lim[0],
		max: lim[1],
		afterBuildTicks: (s) => { s.ticks = all.map((v) => ({ value: v })); },
		afterFit: fit,
		grid: {
			color: "#ebebeb",
			lineWidth: (c) => (c.tick && major.includes(c.tick.value) ? 1.4 : 0.8),
			tickColor: (c) => (c.tick && major.includes(c.tick.value) ? "#5a5a5a" : "rgba(0,0,0,0)"),
			tickLength: 4,
		},
		border: { display: false },
		ticks: {
			autoSkip: false,
			maxRotation: 0,
			padding: labelPad,
			labelOffset: labelShift,
			color: "#606060",
			font: { family: "Liberation Sans", size: 19.5 },
			callback: (v) => { const i = major.indexOf(v); return i >= 0 ? labels[i] : ""; },
		},
		title: {
			display: true,
			text: text,
			color: "#111",
			font: { family: "Liberation Sans", size: 25, lineHeight: 1.2 },
			padding: { top: titlePad, bottom: titlePad },
		},
	};
}

panels.forEach((p) => {
	const [l, t, r, b] = p.box;
	const canvas = document.createElement("canvas");
	canvas.width = r - l + LEFT + RIGHT;
	canvas.height = b - t + ABOVE + BELOW;
	canvas.style.left = l - LEFT + "px";
	canvas.style.top = t - ABOVE + "px";
	page.appendChild(canvas);

	// first dataset ends up on top
	const datasets = [];
	const line = (data, color, width) => datasets.push({ data, showLine: true, borderColor: color, borderWidth: width, pointRadius: 0, fill: false });
	if (p.fit) line(p.fit, "#f01414", 3);
	line([[p.xlim[0], 0], [p.xlim[1], 0]], "#151515", 1.6);
	line([[0, p.ylim[0]], [0, p.ylim[1]]], "#151515", 1.6);
	if (p.contours) {
		for (let i = p.contours.length - 1; i >= 0; i--) {
			const c = viridis(p.levels[i] / p.dmax);
			datasets.push({ data: p.contours[i].concat([p.contours[i][0]]), showLine: true, fill: "shape", tension: 0.4, borderWidth: 0.5, borderColor: c, backgroundColor: c, pointRadius: 0, soft: i === 0 ? 0 : i <= 2 ? p.soft : p.softHot });
		}
		datasets.push({ data: p.dots, pointRadius: 3.5, pointBorderWidth: 0, pointBackgroundColor: "#440154" });
	} else {
		datasets.push({ data: p.red, pointRadius: p.r, pointBorderWidth: 0, pointBackgroundColor: "rgba(255,20,20,0.72)" });
		datasets.push({ data: p.black, pointRadius: p.r, pointBorderWidth: 0, pointBackgroundColor: "rgba(0,0,0,0.72)" });
		if (p.solid) datasets.push({ data: p.solid.concat([p.solid[0]]), showLine: true, fill: "shape", tension: 0.3, borderWidth: 0, backgroundColor: "#0a0a0a", pointRadius: 0 });
	}

	const xPad = b + BELOW - p.xTitleY - 15;
	const yPad = p.yTitleX - (l - LEFT) - 15;
	new Chart(canvas, {
		type: "scatter",
		data: { datasets },
		options: {
			responsive: false,
			animation: false,
			events: [],
			layout: { padding: { top: ABOVE, right: RIGHT, left: 0, bottom: 0 } },
			plugins: { legend: { display: false }, tooltip: { enabled: false } },
			scales: {
				x: axis(p.xlim, p.xT, p.xL, p.xM, "C. acutus", (s) => { s.height = BELOW; s.paddingLeft = 0; s.paddingRight = 0; }, xPad, 2, 0),
				y: axis(p.ylim, p.yT, p.yL, p.yM, "C. propinquus", (s) => { s.width = LEFT; s.paddingTop = 0; s.paddingBottom = 0; }, yPad, 5, 2),
			},
		},
		plugins: [softPlugin, framePlugin],
	});
});

// titles, letters, rho values, legends
const headings = [
	["(a)", 25, 31, "LFC, single-copy", 78, 31.7, "ρ=0.32", 90.7, 78],
	["(b)", 466.7, 31, "LFC, single-copy, DE", 523, 41.7, "ρ=0.45", 538.3, 80],
	["(c)", 918, 31, "Dispersion, single-copy", 986.7, 45, "ρ=0.56", 992.7, 88.3],
	["(d)", 9.3, 527.7, "LFC, multi-copy", 64.5, 529.3, "ρ=0.34", 75, 577.7],
	["(e)", 464, 527.7, "LFC, multi-copy, DE", 517.7, 534, "ρ=0.55", 531, 572.7],
	["(f)", 921.7, 527.7, "Dispersion, multi-copy", 992.3, 540.7, "ρ=0.42", 1002.3, 583.3],
];
// colour bars: x0, x1, y0, y1, title baseline, label x, dmax, ticks, labels
const bars = [
	[389, 416, 164.7, 300.7, 154, 426, 4.06, barA, barALabels],
	[1276.7, 1303.7, 177.7, 314, 166.7, 1313.7, .2017, barC, barCLabels],
	[375.7, 403.3, 662.7, 799, 651.7, 412.7, 2.305, barD, barDLabels],
	[1273.3, 1300.3, 669.7, 801.7, 659, 1309.3, .1745, barC, barCLabels],
];
// species legends: dot x, black dot y, red dot y, text x, baselines, radius, size
const keys = [
	[814, 222.3, 251.7, 836.7, 219, 236, 257, 4, 15.5],
	[825.7, 725.7, 757.3, 850.7, 723.3, 741, 763.3, 3.7, 16],
];

let svg = `<svg id="overlay" width="1355" height="975" xmlns="http://www.w3.org/2000/svg"><defs><linearGradient id="vir" x1="0" y1="1" x2="0" y2="0">`;
viridisStops.forEach((c, i) => { svg += `<stop offset="${i / (viridisStops.length - 1)}" stop-color="${c}"/>`; });
svg += `</linearGradient></defs>`;
headings.forEach((h) => {
	svg += `<text x="${h[1]}" y="${h[2]}" font-size="23" font-weight="bold" fill="#111">${h[0]}</text>`;
	svg += `<text x="${h[4]}" y="${h[5]}" font-size="30" fill="#111">${h[3]}</text>`;
	svg += `<text x="${h[7]}" y="${h[8]}" font-size="24" fill="#111">${h[6]}</text>`;
});
bars.forEach((b) => {
	const [x0, x1, y0, y1, ty, lx, dmax, ticks, labels] = b;
	svg += `<text x="${x0}" y="${ty}" font-size="19" fill="#111">Density</text>`;
	svg += `<rect x="${x0}" y="${y0}" width="${x1 - x0}" height="${y1 - y0}" fill="url(#vir)"/>`;
	ticks.forEach((v, i) => {
		const y = y1 - (v / dmax) * (y1 - y0);
		const w = (x1 - x0) / 5;
		svg += `<path d="M${x0} ${y}h${w}M${x1 - w} ${y}h${w}" stroke="rgba(255,255,255,0.7)" stroke-width="0.8"/>`;
		svg += `<text x="${lx}" y="${y + 5.3}" font-size="15" fill="#222">${labels[i]}</text>`;
	});
});
keys.forEach((k) => {
	svg += `<circle cx="${k[0]}" cy="${k[1]}" r="${k[7]}" fill="rgba(0,0,0,0.75)"/><circle cx="${k[0]}" cy="${k[2]}" r="${k[7]}" fill="rgba(255,20,20,0.75)"/>`;
	svg += `<text x="${k[3]}" y="${k[4]}" font-size="${k[8]}" fill="#222">Species-</text>`;
	svg += `<text x="${k[3]}" y="${k[5]}" font-size="${k[8]}" fill="#222">specific</text>`;
	svg += `<text x="${k[3]}" y="${k[6]}" font-size="${k[8]}" fill="#222">CSG</text>`;
});
svg += `</svg>`;
page.insertAdjacentHTML("beforeend", svg);
</script>
</body>
</html>
